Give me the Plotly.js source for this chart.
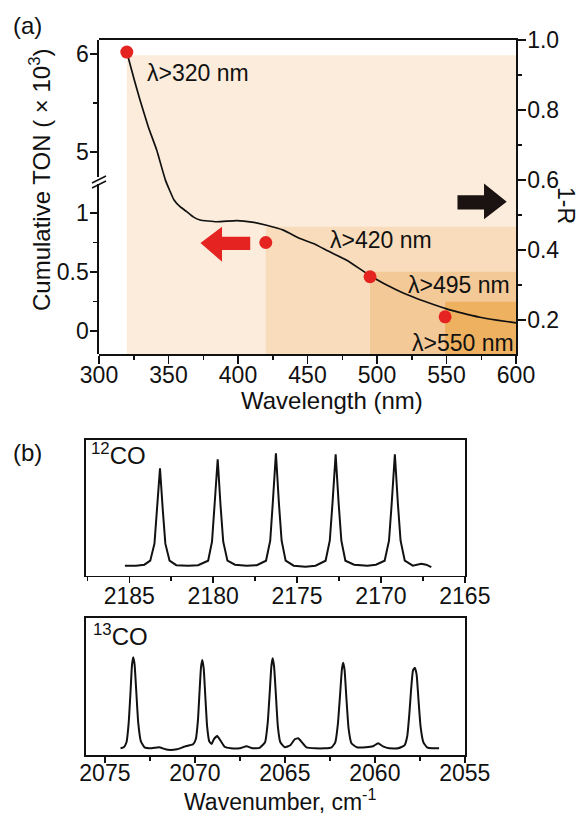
<!DOCTYPE html>
<html>
<head>
<meta charset="utf-8">
<script src="https://cdn.plot.ly/plotly-3.0.1.min.js"></script>
<style>html,body{margin:0;padding:0;background:#fff;}#chart{width:581px;height:814px;}</style>
</head>
<body>
<div id="chart"></div>
<script>
// ---------- Panel (a) data ----------
const wavelength = [320.6, 325.4, 329.5, 335.5, 341.5, 347.8, 354.0, 358.3, 363.1, 367.8, 372.7, 384.7, 399.1, 410, 420.6, 432.6, 444.6, 454.2, 466, 478.2, 496.2, 514.2, 526, 538.1, 550, 562.1, 574, 586.1, 600];
const oneMinusR  = [0.957, 0.886, 0.829, 0.752, 0.686, 0.600, 0.543, 0.524, 0.510, 0.495, 0.486, 0.481, 0.484, 0.480, 0.471, 0.457, 0.433, 0.419, 0.395, 0.371, 0.324, 0.286, 0.266, 0.248, 0.232, 0.219, 0.208, 0.200, 0.192];

const cutoffWl = [320, 420, 495, 549];            // long-pass filter cut-on (nm)
const cutoffLevel = [0.957, 0.467, 0.338, 0.252]; // shaded level on 1-R axis
const cutoffLabels = ["λ>320 nm", "λ>420 nm", "λ>495 nm", "λ>550 nm"];

const tonWl  = [320, 420, 495, 549];
const tonVal = [6.02, 0.75, 0.46, 0.12];           // cumulative TON (x10^3)

// ---------- Panel (b) data ----------
const wn12 = [2185.26, 2184.6, 2184.1, 2183.75, 2183.5, 2183.35, 2183.17, 2183.0, 2182.85, 2182.6, 2182.2, 2181.5, 2180.9, 2180.3, 2180.07, 2179.92, 2179.73, 2179.56, 2179.4, 2179.15, 2178.7, 2178.0, 2177.4, 2176.85, 2176.6, 2176.45, 2176.26, 2176.08, 2175.92, 2175.68, 2175.2, 2174.5, 2173.9, 2173.3, 2173.05, 2172.89, 2172.70, 2172.52, 2172.36, 2172.12, 2171.6, 2170.8, 2170.3, 2169.78, 2169.52, 2169.36, 2169.17, 2168.99, 2168.83, 2168.58, 2168.1, 2167.6, 2167.3, 2167.0];
const abs12 = [0.00, 0.00, 0.01, 0.05, 0.22, 0.55, 0.974, 0.55, 0.22, 0.05, 0.005, 0.0, 0.005, 0.05, 0.24, 0.60, 1.064, 0.60, 0.24, 0.05, 0.01, 0.0, 0.005, 0.05, 0.25, 0.62, 1.124, 0.62, 0.25, 0.05, 0.0, -0.01, 0.0, 0.05, 0.25, 0.62, 1.114, 0.62, 0.25, 0.05, 0.01, 0.0, 0.01, 0.05, 0.25, 0.62, 1.114, 0.62, 0.25, 0.05, 0.0, 0.02, 0.01, -0.015];

const wn13 = [2074.13, 2073.95, 2073.8, 2073.68, 2073.58, 2073.5, 2073.43, 2073.35, 2073.26, 2073.15, 2073.0, 2072.8, 2072.4, 2072.0, 2071.5, 2071.0, 2070.6, 2070.3, 2070.1, 2069.95, 2069.83, 2069.74, 2069.66, 2069.59, 2069.51, 2069.42, 2069.32, 2069.2, 2069.07, 2068.95, 2068.76, 2068.55, 2068.35, 2068.0, 2067.5, 2067.13, 2066.8, 2066.4, 2066.1, 2065.95, 2065.84, 2065.75, 2065.68, 2065.6, 2065.5, 2065.39, 2065.25, 2065.0, 2064.7, 2064.45, 2064.26, 2064.05, 2063.8, 2063.3, 2062.8, 2062.4, 2062.2, 2062.05, 2061.93, 2061.83, 2061.76, 2061.68, 2061.58, 2061.46, 2061.3, 2061.0, 2060.5, 2060.1, 2059.82, 2059.55, 2059.2, 2058.7, 2058.35, 2058.2, 2058.08, 2057.98, 2057.88, 2057.78, 2057.68, 2057.58, 2057.46, 2057.3, 2057.1, 2056.8, 2056.43];
const abs13 = [0.0, 0.01, 0.06, 0.25, 0.55, 0.82, 0.91, 0.84, 0.58, 0.26, 0.07, 0.01, 0.0, 0.01, -0.015, -0.01, 0.015, 0.03, 0.04, 0.09, 0.28, 0.57, 0.81, 0.883, 0.80, 0.52, 0.22, 0.07, 0.043, 0.09, 0.123, 0.07, 0.015, 0.0, 0.0, 0.02, 0.0, 0.005, 0.06, 0.26, 0.56, 0.82, 0.90, 0.82, 0.54, 0.22, 0.06, 0.01, 0.03, 0.09, 0.10, 0.06, 0.01, 0.0, 0.0, 0.01, 0.06, 0.25, 0.54, 0.79, 0.856, 0.78, 0.50, 0.20, 0.05, 0.01, 0.01, 0.02, 0.05, 0.02, 0.0, 0.0, 0.03, 0.12, 0.35, 0.60, 0.78, 0.806, 0.74, 0.50, 0.22, 0.06, 0.01, 0.0, 0.0];

// ---------- styling ----------
const W = 581, H = 814;
const px = x => x / W;
const py = y => 1 - y / H;
const FONT = "Liberation Sans, Arial, sans-serif";
const FS_TICK = 23, FS_TITLE = 24, FS_LABEL = 23;
const shadeColors = ["#fcecdb", "#f8dcbb", "#f4c998", "#eeb15f"];
const R_RANGE = [0.103, 1.0005];
const XMAX = 600;

const traces = [];
cutoffWl.forEach((c, i) => {
  traces.push({
    type: "scatter", mode: "lines", xaxis: "x", yaxis: "y",
    x: [c, c, XMAX, XMAX, c], y: [R_RANGE[0], cutoffLevel[i], cutoffLevel[i], R_RANGE[0], R_RANGE[0]],
    fill: "toself", fillcolor: shadeColors[i], line: {width: 0}, hoverinfo: "skip", showlegend: false
  });
});
traces.push({
  type: "scatter", mode: "lines", xaxis: "x", yaxis: "y",
  x: wavelength, y: oneMinusR, line: {color: "#111", width: 1.7, shape: "spline", smoothing: 0.4},
  showlegend: false
});
const lowX = [], lowY = [], upX = [], upY = [];
tonWl.forEach((w, i) => { if (tonVal[i] > 2) { upX.push(w); upY.push(tonVal[i]); } else { lowX.push(w); lowY.push(tonVal[i]); } });
traces.push({type: "scatter", mode: "markers", xaxis: "x", yaxis: "y2", x: lowX, y: lowY,
  marker: {color: "#e52421", size: 13}, cliponaxis: false, showlegend: false});
traces.push({type: "scatter", mode: "markers", xaxis: "x", yaxis: "y3", x: upX, y: upY,
  marker: {color: "#e52421", size: 13}, cliponaxis: false, showlegend: false});
traces.push({type: "scatter", mode: "lines", xaxis: "x2", yaxis: "y4", x: wn12, y: abs12,
  line: {color: "#111", width: 2}, showlegend: false});
traces.push({type: "scatter", mode: "lines", xaxis: "x3", yaxis: "y5", x: wn13, y: abs13,
  line: {color: "#111", width: 2, shape: "spline", smoothing: 0.4}, showlegend: false});

const tickFont = {family: FONT, size: FS_TICK, color: "#111"};
const axBase = {showgrid: false, zeroline: false, showline: true, linecolor: "#111", linewidth: 1.6,
  ticks: "outside", tickcolor: "#111", tickwidth: 1.5, tickfont: tickFont, fixedrange: true};
const minorT = (o) => Object.assign({ticklen: 4, ticks: "outside", tickcolor: "#111", tickwidth: 1.5}, o);

const dA = [px(99), px(516)];
const dB = [px(86), px(465)];

const layout = {
  width: W, height: H, margin: {l: 0, r: 0, t: 0, b: 0},
  paper_bgcolor: "#fff", plot_bgcolor: "rgba(0,0,0,0)", showlegend: false,
  font: {family: FONT, size: FS_TICK, color: "#111"},
  xaxis: Object.assign({}, axBase, {domain: dA, anchor: "y", range: [300, 600], dtick: 50, tick0: 300,
    ticklen: 8, mirror: true, ticklabelstandoff: -8, minor: minorT({dtick: 25})}),
  yaxis: Object.assign({}, axBase, {domain: [py(354), py(40)], anchor: "x", side: "right", range: R_RANGE,
    dtick: 0.2, tick0: 0, tickformat: ".1f", ticklen: 8, ticklabelstandoff: -3, minor: minorT({dtick: 0.1})}),
  yaxis2: Object.assign({}, axBase, {domain: [py(354), py(184)], anchor: "x", side: "left", range: [-0.195, 1.246],
    tickvals: [0, 0.5, 1], ticktext: ["0", "0.5", "1"], ticklen: 7, ticklabelstandoff: -3, minor: minorT({tickvals: [0.25, 0.75]})}),
  yaxis3: Object.assign({}, axBase, {domain: [py(177), py(40)], anchor: "x", side: "left", range: [4.745, 6.143],
    tickvals: [5, 6], ticktext: ["5", "6"], ticklen: 7, ticklabelstandoff: -3, minor: minorT({tickvals: [5.5]})}),
  xaxis2: Object.assign({}, axBase, {domain: dB, anchor: "y4", range: [2187.58, 2164.99], dtick: 5, tick0: 2165,
    ticklen: 6, mirror: true, ticklabelstandoff: -7, minor: minorT({dtick: 2.5})}),
  yaxis4: Object.assign({}, axBase, {domain: [py(575.7), py(440)], anchor: "x2", range: [-0.10, 1.257],
    ticks: "", showticklabels: false, mirror: true}),
  xaxis3: Object.assign({}, axBase, {domain: dB, anchor: "y5", range: [2076.05, 2054.99], dtick: 5, tick0: 2055,
    ticklen: 6, mirror: true, ticklabelstandoff: -9, minor: minorT({dtick: 2.5})}),
  yaxis5: Object.assign({}, axBase, {domain: [py(755), py(618)], anchor: "x3", range: [-0.067, 1.303],
    ticks: "", showticklabels: false, mirror: true}),
  shapes: [
    {type: "path", xref: "x", yref: "y", layer: "above", line: {width: 0}, fillcolor: "#e52421",
      path: "M 373,0.420 L 388.5,0.467 L 388.5,0.438 L 408.8,0.438 L 408.8,0.400 L 388.5,0.400 L 388.5,0.367 Z"},
    {type: "path", xref: "x", yref: "y", layer: "above", line: {width: 0}, fillcolor: "#1a1311",
      path: "M 593.3,0.538 L 577,0.5906 L 577,0.557 L 557.9,0.557 L 557.9,0.516 L 577,0.516 L 577,0.488 Z"},
    {type: "line", xref: "paper", yref: "paper", x0: px(92), y0: py(183), x1: px(106), y1: py(176), line: {color: "#111", width: 1.5}},
    {type: "line", xref: "paper", yref: "paper", x0: px(92), y0: py(188), x1: px(106), y1: py(181), line: {color: "#111", width: 1.5}}
  ],
  annotations: []
};

const ann = (text, x, y, size, opts) => Object.assign({text, x: px(x), y: py(y), xref: "paper", yref: "paper",
  showarrow: false, xanchor: "center", yanchor: "middle", borderpad: 0,
  font: {family: FONT, size: size, color: "#111"}}, opts || {});

layout.annotations.push(ann("(a)", 27, 26, FS_TITLE));
layout.annotations.push(ann("(b)", 27, 452, FS_TITLE));
const labelPos = [[146, 73.5], [329, 240.5], [407, 284.5], [411, 343]];
cutoffLabels.forEach((t, i) => layout.annotations.push(ann(t, labelPos[i][0], labelPos[i][1], FS_LABEL, {xanchor: "left"})));
layout.annotations.push(ann("Cumulative TON (\u00a0×\u00a010<sup>3</sup>)", 40, 180, FS_TITLE, {textangle: -90}));
layout.annotations.push(ann("1-R", 566, 205, 23, {textangle: 90}));
layout.annotations.push(ann("Wavelength (nm)", 332, 400, FS_TITLE));
layout.annotations.push(ann("<sup>12</sup>CO", 90, 454, FS_TITLE, {xanchor: "left"}));
layout.annotations.push(ann("<sup>13</sup>CO", 92, 635, FS_TITLE, {xanchor: "left"}));
layout.annotations.push(ann("Wavenumber, cm<sup>-1</sup>", 280, 800, 23));

Plotly.newPlot("chart", traces, layout, {staticPlot: true, displayModeBar: false});
</script>
</body>
</html>
